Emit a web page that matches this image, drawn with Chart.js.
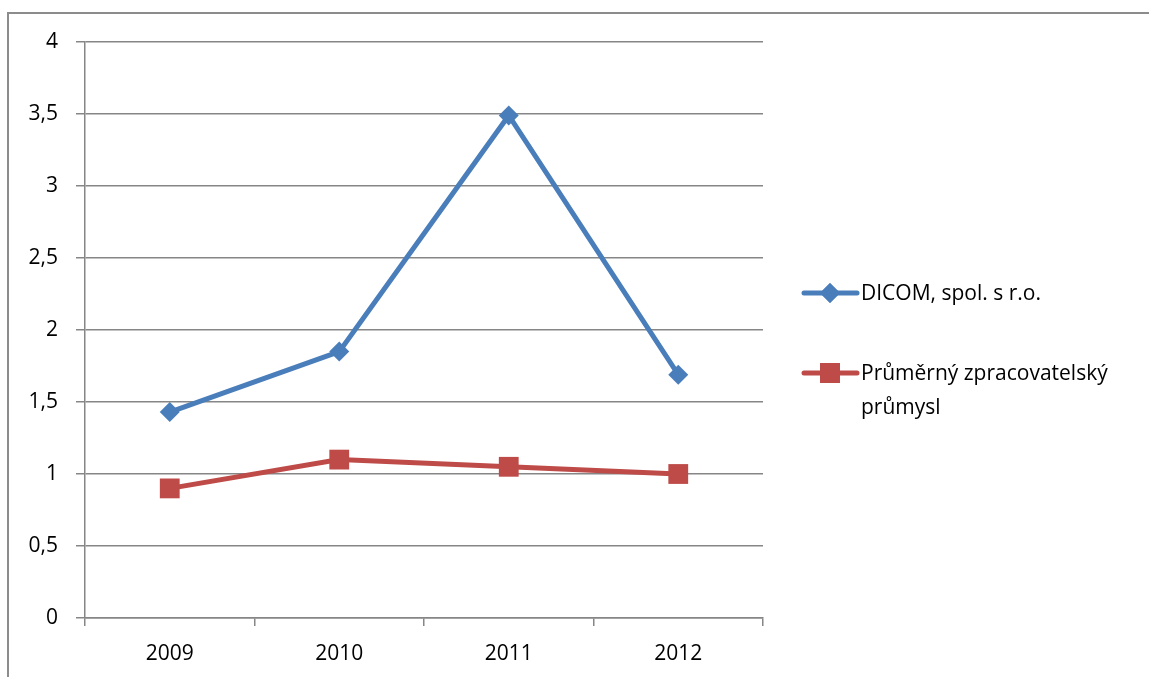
<!DOCTYPE html>
<html>
<head>
<meta charset="utf-8">
<script src="https://cdn.jsdelivr.net/npm/chart.js@4.4.1/dist/chart.umd.min.js"></script>
<style>
  html, body { margin: 0; background: #fff; overflow: hidden; }
  #frame { position: absolute; left: 7px; top: 12px; width: 1142px; height: 665px; border-left: 2px solid #8c8c8c; border-top: 2px solid #8c8c8c; box-sizing: border-box; }
  #wrap { position: absolute; left: 0; top: 0; width: 1149px; height: 677px; }
</style>
</head>
<body>
<div id="frame"></div>
<div id="wrap"><canvas id="chart" width="1149" height="677"></canvas></div>
<script>
const years = ['2009', '2010', '2011', '2012'];
const dicomValues = [1.43, 1.85, 3.49, 1.69];
const industryValues = [0.90, 1.10, 1.05, 1.00];
const seriesNames = ['DICOM, spol. s r.o.', ['Průměrný zpracovatelský', 'průmysl']];

const blue = '#4a7ebb';
const red = '#be4b48';
const fontFamily = '"Open Sans", sans-serif';
const fontSize = 21;

// legend drawn to the right of the plot, Excel style (line + marker)
const sideLegend = {
    id: 'sideLegend',
    afterDraw(chart) {
        const ctx = chart.ctx;
        const items = [
            { color: blue, style: 'rectRot', radius: 10, y: 293, lines: [seriesNames[0]] },
            { color: red, style: 'rect', radius: 14, y: 373, lines: seriesNames[1] }
        ];
        ctx.save();
        items.forEach(item => {
            ctx.strokeStyle = item.color;
            ctx.lineWidth = 5;
            ctx.lineCap = 'round';
            ctx.beginPath();
            ctx.moveTo(804, item.y);
            ctx.lineTo(857, item.y);
            ctx.stroke();
            ctx.fillStyle = item.color;
            Chart.helpers.drawPoint(ctx, { pointStyle: item.style, radius: item.radius, borderWidth: 0 }, 830, item.y);
            ctx.fill();
            ctx.fillStyle = '#000';
            ctx.font = fontSize + 'px ' + fontFamily;
            ctx.textBaseline = 'middle';
            item.lines.forEach((line, i) => {
                ctx.fillText(line, 861, item.y + 1 + i * 34);
            });
        });
        ctx.restore();
    }
};

const ctx = document.getElementById('chart').getContext('2d');
new Chart(ctx, {
    type: 'line',
    data: {
        labels: years,
        datasets: [{
            label: 'DICOM, spol. s r.o.',
            data: dicomValues,
            borderColor: blue,
            backgroundColor: blue,
            borderWidth: 5,
            pointStyle: 'rectRot',
            pointRadius: 10,
            pointBorderWidth: 0,
            tension: 0
        }, {
            label: 'Průměrný zpracovatelský průmysl',
            data: industryValues,
            borderColor: red,
            backgroundColor: red,
            borderWidth: 5,
            pointStyle: 'rect',
            pointRadius: 14,
            pointBorderWidth: 0,
            tension: 0
        }]
    },
    options: {
        responsive: false,
        animation: false,
        layout: { padding: { left: 0, top: 42, right: 386, bottom: 0 } },
        plugins: {
            legend: { display: false },
            tooltip: { enabled: false }
        },
        scales: {
            x: {
                offset: true,
                grid: { offset: true, drawOnChartArea: false, drawTicks: true, tickLength: 8, color: '#868686', lineWidth: 1.5 },
                border: { color: '#868686', width: 1.5 },
                ticks: { color: '#000', padding: 15, font: { family: fontFamily, size: fontSize } },
                afterFit(scale) { scale.height = 59; }
            },
            y: {
                min: 0,
                max: 4,
                grid: { color: '#868686', lineWidth: 1.5, tickLength: 9 },
                border: { color: '#868686', width: 1.5 },
                ticks: {
                    stepSize: 0.5,
                    color: '#000',
                    padding: 18,
                    font: { family: fontFamily, size: fontSize },
                    callback: v => String(v).replace('.', ',')
                },
                afterFit(scale) { scale.width = 85; }
            }
        }
    },
    plugins: [sideLegend]
});
</script>
</body>
</html>
